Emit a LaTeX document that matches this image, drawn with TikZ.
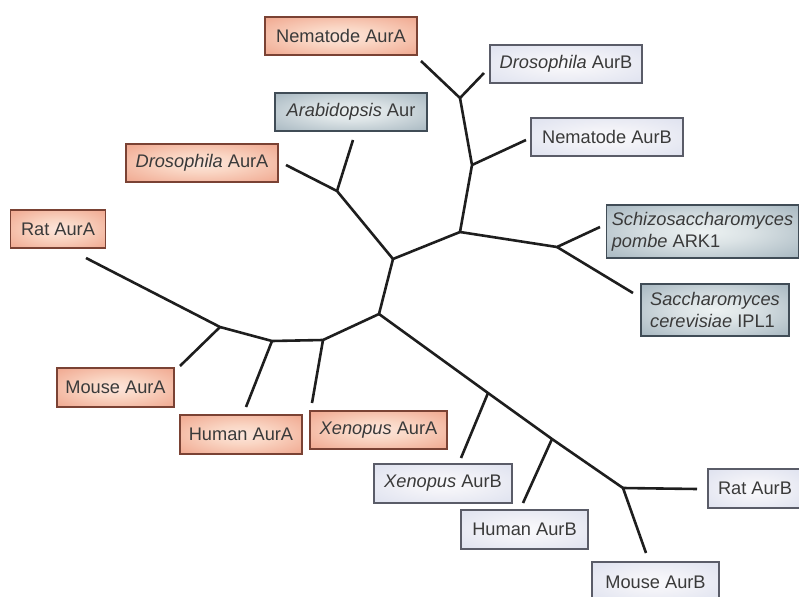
\documentclass[tikz,border=0pt]{standalone}
\usepackage{fontspec}
\setmainfont{Liberation Sans}
\pgfdeclareradialshading{orangeshade}{\pgfpoint{0bp}{0bp}}{rgb(0bp)=(0.99,0.90,0.86);rgb(12bp)=(0.98,0.84,0.77);rgb(48bp)=(0.92,0.56,0.45);rgb(75bp)=(0.91,0.53,0.42)}
\pgfdeclareradialshading{blueshade}{\pgfpoint{0bp}{0bp}}{rgb(0bp)=(0.98,0.98,0.99);rgb(12bp)=(0.95,0.95,0.97);rgb(48bp)=(0.83,0.85,0.92);rgb(75bp)=(0.81,0.83,0.91)}
\pgfdeclareradialshading{tealshade}{\pgfpoint{0bp}{0bp}}{rgb(0bp)=(0.93,0.95,0.95);rgb(12bp)=(0.86,0.89,0.90);rgb(48bp)=(0.55,0.63,0.68);rgb(75bp)=(0.52,0.60,0.66)}
\definecolor{txt}{HTML}{3A3A3A}
\definecolor{treeline}{HTML}{1E1E1E}
\definecolor{obord}{HTML}{7A4234}
\definecolor{bbord}{HTML}{5A5C68}
\definecolor{tbord}{HTML}{404C56}
\tikzset{
  lbl/.style={inner sep=0pt, text=txt, font=\fontsize{18.3}{22}\selectfont, line width=1.2bp},
  abox/.style={lbl, shading=orangeshade, draw=obord},
  bbox/.style={lbl, shading=blueshade, draw=bbord},
  tbox/.style={lbl, shading=tealshade, draw=tbord},
  br/.style={draw=treeline, line width=2.6bp, line join=round}
}
\begin{document}
\begin{tikzpicture}[x=1bp,y=-1bp]
\useasboundingbox (0,0) rectangle (799,597);
% boxes
\node[abox, minimum width=152bp, minimum height=38bp] (nemA) at (341,36) {Nematode AurA};
\node[bbox, minimum width=152bp, minimum height=38bp] (droB) at (566,64) {\textit{Drosophila} AurB};
\node[tbox, minimum width=152bp, minimum height=38bp] (arab) at (351,112) {\textit{Arabidopsis} Aur};
\node[bbox, minimum width=152bp, minimum height=38bp] (nemB) at (607,137) {Nematode AurB};
\node[abox, minimum width=152bp, minimum height=38bp] (droA) at (202,163) {\textit{Drosophila} AurA};
\node[abox, minimum width=95bp, minimum height=38bp] (ratA) at (58,229) {Rat AurA};
\node[tbox, minimum width=192bp, minimum height=53bp, align=left] (schizo) at (702.5,231.5) {\textit{Schizosaccharomyces}\\\textit{pombe} ARK1};
\node[tbox, minimum width=148bp, minimum height=52bp, align=left] (sacch) at (715,310) {\textit{Saccharomyces}\\\textit{cerevisiae} IPL1};
\node[abox, minimum width=117bp, minimum height=39bp] (mouA) at (115.5,387.5) {Mouse AurA};
\node[abox, minimum width=122bp, minimum height=39bp] (humA) at (241,434.5) {Human AurA};
\node[abox, minimum width=137bp, minimum height=38bp] (xenA) at (378.5,430) {\textit{Xenopus} AurA};
\node[bbox, minimum width=138bp, minimum height=39bp] (xenB) at (443,483.5) {\textit{Xenopus} AurB};
\node[bbox, minimum width=127bp, minimum height=39bp] (humB) at (524.5,529.5) {Human AurB};
\node[bbox, minimum width=94bp, minimum height=39bp] (ratB) at (755,488.5) {Rat AurB};
\node[bbox, minimum width=127bp, minimum height=40bp] (mouB) at (655.5,582) {Mouse AurB};
% tree coordinates
\coordinate (eRatA) at (86,258);
\coordinate (j1) at (220,327);
\coordinate (j2) at (272,341);
\coordinate (j3) at (323,340);
\coordinate (j4) at (379,314);
\coordinate (j5) at (393,259);
\coordinate (j6) at (460,232);
\coordinate (j7) at (472,165);
\coordinate (j8) at (460,98);
\coordinate (eNemA) at (421,61);
\coordinate (eDroB) at (484,73);
\coordinate (eNemB) at (526,140);
\coordinate (j9) at (337,191);
\coordinate (eArab) at (353,140);
\coordinate (eDroA) at (286,165);
\coordinate (j10) at (557,247);
\coordinate (eSchizo) at (600,227);
\coordinate (eSacch) at (633,293);
\coordinate (eMouA) at (180,366);
\coordinate (eHumA) at (246,407);
\coordinate (eXenA) at (312,403);
\coordinate (j11) at (488,393);
\coordinate (j12) at (552,439);
\coordinate (j13) at (623,488);
\coordinate (eXenB) at (461,458);
\coordinate (eHumB) at (523,503);
\coordinate (eRatB) at (697,489);
\coordinate (eMouB) at (646,553);
% tree
\draw[br] (eRatA) -- (j1) -- (j2) -- (j3) -- (j4) -- (j5) -- (j6) -- (j7) -- (j8) -- (eNemA);
\draw[br] (j4) -- (j11) -- (j12) -- (j13) -- (eMouB);
\draw[br] (j8) -- (eDroB);
\draw[br] (j7) -- (eNemB);
\draw[br] (j5) -- (j9) -- (eDroA);
\draw[br] (j9) -- (eArab);
\draw[br] (j6) -- (j10) -- (eSchizo);
\draw[br] (j10) -- (eSacch);
\draw[br] (j1) -- (eMouA);
\draw[br] (j2) -- (eHumA);
\draw[br] (j3) -- (eXenA);
\draw[br] (j11) -- (eXenB);
\draw[br] (j12) -- (eHumB);
\draw[br] (j13) -- (eRatB);
\end{tikzpicture}
\end{document}
